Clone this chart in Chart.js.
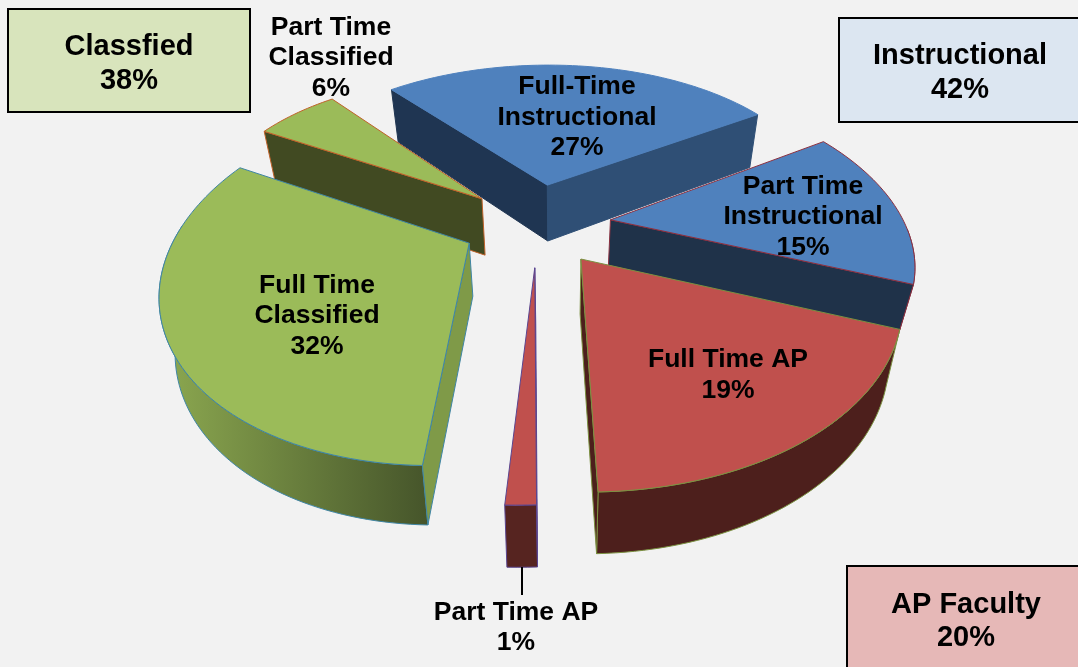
<!DOCTYPE html>
<html>
<head>
<meta charset="utf-8">
<title>Employee mix</title>
<script src="https://cdn.jsdelivr.net/npm/chart.js@4"></script>
<style>
  html, body { margin: 0; padding: 0; background: #f2f2f2; }
  #wrap { position: relative; width: 1078px; height: 667px; overflow: hidden; }
</style>
</head>
<body>
<div id="wrap"><canvas id="pie"></canvas></div>
<script>
const categories = [
  ["Full-Time", "Instructional"],
  ["Part Time", "Instructional"],
  ["Full Time AP"],
  ["Part Time AP"],
  ["Full Time", "Classified"],
  ["Part Time", "Classified"],
];
const shares = [27, 15, 19, 1, 32, 6];

const groupNames = ["Classfied", "Instructional", "AP Faculty"];
const groupShares = [38, 42, 20];

// how far each slice is pulled out of the pie, in px
const explode = [62, 62, 62, 62, 62, 62];

// look of the slices
const topColors = ["#4f81bd", "#4f81bd", "#c0504d", "#c0504d", "#9bbb59", "#9bbb59"];
const startWall = ["#1f3552", "#1f3552", "#4d1f1c", "#5a2420", "#7f9a48", "#414a22"];
const endWall = ["#2f4f75", "#1f3249", "#4d1f1c", "#5a2420", "#7f9a48", "#414a22"];
const outerWall = ["#2f4f75", "#1f3249", "#4d1f1c", "#562420", "#6b7f3c", "#414a22"];
const outlines = ["#4f81bd", "#8a3040", "#7a9040", "#5a4590", "#3f85a5", "#c0622a"];
const paintOrder = [0, 5, 1, 4, 2, 3];

// camera for the tilted view; unit disc -> page px
const cam = { dx: 3, dy: -106, A: 288, B: 175, D: -24, p: 0.2, H: 57, vx: 560, lean: 0.04 };

// per slice correction of the view: [kx, shx, shy, ky, moveX, moveY], about the slice tip
const trim = [
  [1.001, -0.032, 0.039, 0.888, -3, -8],
  [1.047, 0.051, 0.056, 0.954, 10, -1],
  [1.068, 0.013, 0.052, 0.993, 4, 3],
  [1.333, -0.014, 0.041, 0.991, -6, 3],
  [0.984, -0.063, 0.042, 0.971, -20, -5],
  [0.948, 0.029, 0.061, 0.869, -15, -9],
];
const depthScale = [1, 0.8, 0.95, 0.95, 0.92, 1];

const labelSpots = [[577, 87], [803, 186.5], [728, 360], [516, 612.5], [317, 285.5], [331, 27.5]];
const boxSpots = [
  { x: 8, y: 9, w: 242, h: 103, fill: "#d8e4bc", tx: 129, ty: 47 },
  { x: 839, y: 18, w: 245, h: 104, fill: "#dce6f1", tx: 960, ty: 56 },
  { x: 847, y: 566, w: 237, h: 107, fill: "#e6b8b7", tx: 966, ty: 604.5 },
];

function project(el, ux, uy) {
  const s = 1 / (1 - cam.p * uy);
  return {
    x: el.x + cam.dx + (cam.A * ux + cam.D * uy) * s,
    y: el.y + cam.dy + cam.B * uy * s,
    s,
  };
}

function poly(ctx, pts, fill, line) {
  ctx.beginPath();
  pts.forEach((pt, i) => (i ? ctx.lineTo(pt.x, pt.y) : ctx.moveTo(pt.x, pt.y)));
  ctx.closePath();
  ctx.fillStyle = fill;
  ctx.fill();
  ctx.strokeStyle = line;
  ctx.lineWidth = 1;
  ctx.stroke();
}

// signed area on the page, used to drop the walls that face away
function winding(pts) {
  let sum = 0;
  pts.forEach((a, n) => {
    const b = pts[(n + 1) % pts.length];
    sum += a.x * b.y - b.x * a.y;
  });
  return sum;
}

function drawSlice(ctx, el, i) {
  const mid = (el.startAngle + el.endAngle) / 2;
  const e = el.options.offset / el.outerRadius;
  const ox = Math.cos(mid) * e;
  const oy = Math.sin(mid) * e;
  const tip = project(el, ox, oy);
  const [kx, shx, shy, ky, mx, my] = trim[i];

  const top = (ux, uy) => {
    const p = project(el, ux, uy);
    const dx = p.x - tip.x;
    const dy = p.y - tip.y;
    return { x: tip.x + mx + kx * dx + shx * dy, y: tip.y + my + shy * dx + ky * dy, s: p.s };
  };
  const bottom = (p) => ({
    x: p.x + (cam.vx - p.x) * cam.lean,
    y: p.y + cam.H * depthScale[i] * Math.sqrt(p.s),
  });

  const steps = Math.max(3, Math.round((el.endAngle - el.startAngle) * 40));
  const arcTop = [];
  const frontTop = [];
  for (let k = 0; k <= steps; k++) {
    const a = el.startAngle + (el.endAngle - el.startAngle) * k / steps;
    const p = top(ox + Math.cos(a), oy + Math.sin(a));
    arcTop.push(p);
    if (Math.sin(a) > -0.05) frontTop.push(p); // only the near side of the rim shows
  }
  const apexTop = top(ox, oy);
  const apexBot = bottom(apexTop);
  const first = arcTop[0];
  const last = arcTop[arcTop.length - 1];

  const wallA = [apexTop, first, bottom(first), apexBot];
  const wallB = [apexTop, last, bottom(last), apexBot];
  if (frontTop.length > 1) {
    let wallFill = outerWall[i];
    if (i === 4) {
      wallFill = ctx.createLinearGradient(170, 0, 430, 0);
      wallFill.addColorStop(0, "#8aa64f");
      wallFill.addColorStop(1, "#45542a");
    }
    poly(ctx, frontTop.concat(frontTop.map(bottom).reverse()), wallFill, outlines[i]);
  }
  if (winding(wallA) < 0) poly(ctx, wallA, startWall[i], i === 0 ? startWall[i] : outlines[i]);
  if (winding(wallB) > 0) poly(ctx, wallB, endWall[i], i === 0 ? endWall[i] : outlines[i]);
  poly(ctx, [apexTop].concat(arcTop), topColors[i], outlines[i]);
}

const pie3d = {
  id: "pie3d",
  // the library lays out the arcs, this paints them in the tilted view
  beforeDatasetsDraw(chart) {
    const ctx = chart.ctx;
    const arcs = chart.getDatasetMeta(0).data;
    ctx.save();
    paintOrder.forEach((i) => drawSlice(ctx, arcs[i], i));
    ctx.restore();
    return false;
  },
  afterDraw(chart) {
    const ctx = chart.ctx;
    ctx.save();
    ctx.strokeStyle = "#000";
    ctx.lineWidth = 2;
    ctx.beginPath();
    ctx.moveTo(522, 567);
    ctx.lineTo(522, 595);
    ctx.stroke();

    ctx.fillStyle = "#000";
    ctx.textAlign = "center";
    ctx.textBaseline = "middle";
    ctx.font = "bold 26.5px 'Liberation Sans', Arial, sans-serif";
    categories.forEach((lines, i) => {
      const [x, y] = labelSpots[i];
      lines.concat(shares[i] + "%").forEach((txt, n) => ctx.fillText(txt, x, y + n * 30.5));
    });

    groupNames.forEach((name, i) => {
      const b = boxSpots[i];
      ctx.fillStyle = b.fill;
      ctx.fillRect(b.x, b.y, b.w, b.h);
      ctx.strokeStyle = "#000";
      ctx.lineWidth = 2;
      ctx.strokeRect(b.x, b.y, b.w, b.h);
      ctx.fillStyle = "#000";
      ctx.font = "bold 29px 'Liberation Sans', Arial, sans-serif";
      ctx.fillText(name, b.tx, b.ty);
      ctx.fillText(groupShares[i] + "%", b.tx, b.ty + 33.5);
    });
    ctx.restore();
  },
};

new Chart(document.getElementById("pie"), {
  type: "pie",
  data: {
    labels: categories.map((c) => c.join(" ")),
    datasets: [
      {
        data: shares,
        backgroundColor: topColors,
        borderColor: outlines,
        borderWidth: 0,
        offset: explode,
      },
    ],
  },
  options: {
    responsive: true,
    maintainAspectRatio: false,
    animation: false,
    rotation: -45,
    events: [],
    plugins: { legend: { display: false }, tooltip: { enabled: false } },
  },
  plugins: [pie3d],
});
</script>
</body>
</html>
